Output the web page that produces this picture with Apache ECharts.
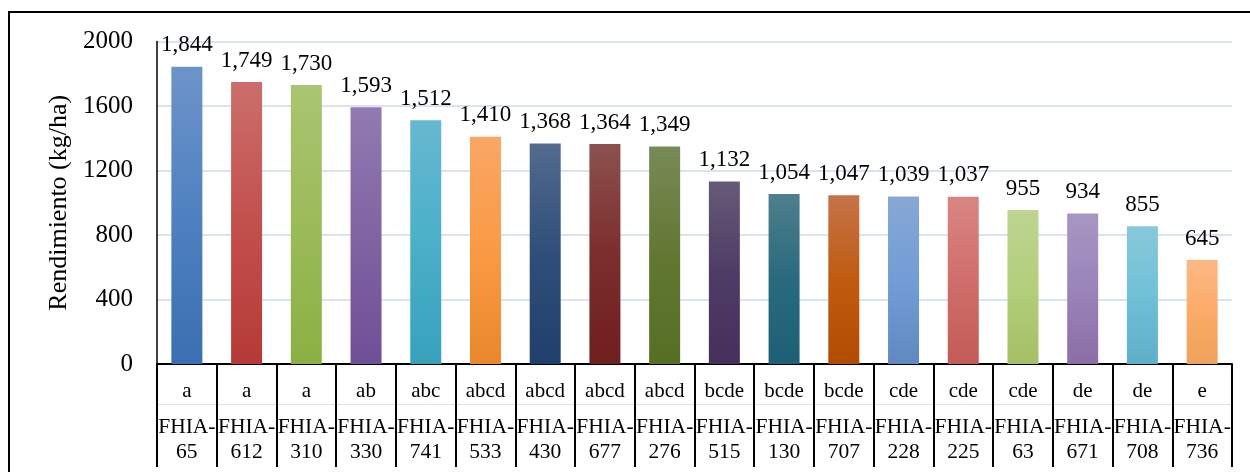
<!DOCTYPE html>
<html>
<head>
<meta charset="utf-8">
<script src="https://cdn.jsdelivr.net/npm/echarts@6/dist/echarts.min.js"></script>
<style>
  html, body { margin: 0; padding: 0; background: #fff; }
  #chart { width: 1250px; height: 472px; }
</style>
</head>
<body>
<div id="chart"></div>
<script>
// Genotypes, mean separation letters and yield (kg/ha)
const genotypes = ['FHIA-65', 'FHIA-612', 'FHIA-310', 'FHIA-330', 'FHIA-741', 'FHIA-533',
  'FHIA-430', 'FHIA-677', 'FHIA-276', 'FHIA-515', 'FHIA-130', 'FHIA-707',
  'FHIA-228', 'FHIA-225', 'FHIA-63', 'FHIA-671', 'FHIA-708', 'FHIA-736'];
const groups = ['a', 'a', 'a', 'ab', 'abc', 'abcd', 'abcd', 'abcd', 'abcd', 'bcde',
  'bcde', 'bcde', 'cde', 'cde', 'cde', 'de', 'de', 'e'];
const yieldValues = [1844, 1749, 1730, 1593, 1512, 1410, 1368, 1364, 1349, 1132,
  1054, 1047, 1039, 1037, 955, 934, 855, 645];
const yTicks = [0, 400, 800, 1200, 1600, 2000];

// Bar fills: [top, middle, bottom] of each vertical gradient
const palette = [
  ['#6d94ca', '#4f81c0', '#3a6fb1'],
  ['#cb6e6b', '#c2504d', '#b53a37'],
  ['#a9c571', '#9bbb59', '#8bb042'],
  ['#917ab1', '#8064a2', '#6f4f96'],
  ['#66b8d0', '#4bb0c9', '#37a1bc'],
  ['#f9a666', '#fa9a44', '#e9872b'],
  ['#536b8e', '#2f4e79', '#203f6c'],
  ['#8c514f', '#7b2e2c', '#6f1f1d'],
  ['#788a58', '#627832', '#566e24'],
  ['#675a77', '#4f3c66', '#45305b'],
  ['#4f7f8c', '#286a7e', '#1d6075'],
  ['#c4744a', '#c05b10', '#b14c02'],
  ['#88a7d3', '#729dd6', '#5f89c0'],
  ['#d98683', '#d06e6a', '#c35b58'],
  ['#bed492', '#b3cf7b', '#a4bf64'],
  ['#a896c2', '#9a84ba', '#8b6ea6'],
  ['#88c8da', '#70c1d7', '#5eafc8'],
  ['#fbb885', '#fdab68', '#eda25a']
];

const serif = "'Liberation Serif', 'Times New Roman', serif";

const barData = yieldValues.map((v, i) => ({
  value: v,
  itemStyle: {
    color: new echarts.graphic.LinearGradient(0, 0, 0, 1, [
      { offset: 0, color: palette[i][0] },
      { offset: 0.5, color: palette[i][1] },
      { offset: 1, color: palette[i][2] }
    ])
  }
}));

const chart = echarts.init(document.getElementById('chart'), null, { renderer: 'canvas' });

chart.setOption({
  animation: false,
  backgroundColor: '#fff',
  textStyle: { fontFamily: serif, color: '#000' },
  grid: { left: 157, right: 18, top: 41.5, bottom: 108, containLabel: false },
  graphic: [{
    type: 'rect',
    shape: { x: 9, y: 12, width: 1300, height: 520 },
    style: { fill: 'none', stroke: '#000', lineWidth: 2 },
    z: 100
  }],
  xAxis: [{
    type: 'category',
    data: genotypes,
    position: 'bottom',
    axisLine: { show: true, lineStyle: { color: '#000', width: 2 } },
    axisTick: { show: true, interval: 0, length: 103, alignWithLabel: false,
      lineStyle: { color: '#000', width: 2 } },
    axisLabel: {
      interval: 0,
      margin: 4,
      formatter: (name, idx) => {
        const parts = name.split('-');
        return '{l|' + groups[idx] + '}\n{n|' + parts[0] + '-}\n{n|' + parts[1] + '}';
      },
      rich: {
        l: { fontFamily: serif, fontSize: 21, lineHeight: 47, color: '#000' },
        n: { fontFamily: serif, fontSize: 21.5, lineHeight: 25, color: '#000' }
      }
    },
    splitLine: { show: false }
  }, {
    // thin rule between the letter row and the genotype row
    type: 'category',
    data: genotypes,
    position: 'bottom',
    offset: 40,
    axisLine: { show: true, lineStyle: { color: '#e4e4e4', width: 1 } },
    axisTick: { show: false },
    axisLabel: { show: false },
    splitLine: { show: false }
  }],
  yAxis: {
    type: 'value',
    min: yTicks[0],
    max: yTicks[yTicks.length - 1],
    interval: 400,
    name: 'Rendimiento (kg/ha)',
    nameLocation: 'middle',
    nameGap: 84,
    nameTextStyle: { fontFamily: serif, fontSize: 26, color: '#000' },
    axisLine: { show: true, lineStyle: { color: '#000', width: 1.5 } },
    axisTick: { show: false },
    axisLabel: { margin: 24, fontFamily: serif, fontSize: 25, color: '#000',
      formatter: v => String(v) },
    splitLine: { show: true, lineStyle: { color: '#d9e4f3', width: 2 } }
  },
  series: [{
    type: 'bar',
    data: barData,
    barWidth: 31,
    label: {
      show: true,
      position: 'top',
      distance: 10,
      fontFamily: serif,
      fontSize: 23,
      color: '#000',
      formatter: p => p.value.toLocaleString('en-US')
    }
  }]
});
</script>
</body>
</html>
